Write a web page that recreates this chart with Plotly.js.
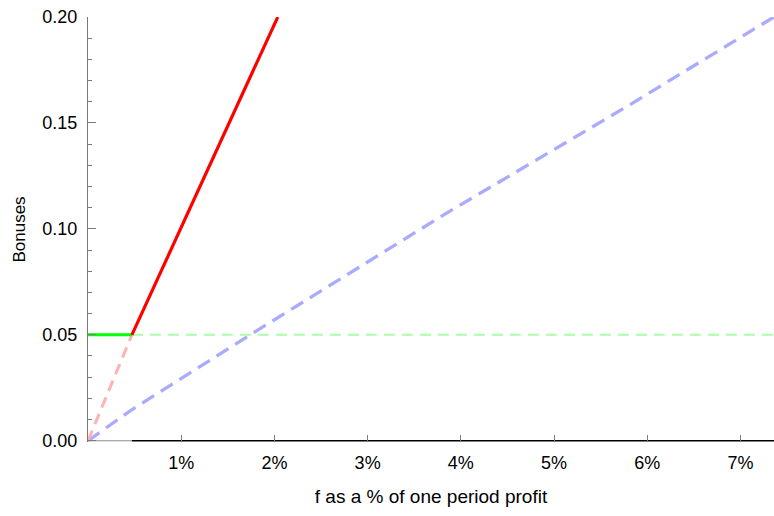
<!DOCTYPE html>
<html><head><meta charset="utf-8">
<script src="https://cdn.plot.ly/plotly-3.0.1.min.js"></script>
<style>html,body{margin:0;padding:0;background:#fff}#chart{width:774px;height:516px}</style>
</head><body><div id="chart"></div>
<script>
// data (x in % of one-period profit, y = bonus)
const redSolidX = [0.471, 2.036];
const redSolidY = [0.05, 0.2];
const redDashX = [0, 0.471];
const redDashY = [0, 0.05];
const greenSolidX = [0, 0.471];
const greenSolidY = [0.05, 0.05];
const greenDashX = [0.471, 7.36];
const greenDashY = [0.05, 0.05];
const blueX = [0, 0.465, 1.74, 3.83, 5.81, 7.36];
const blueY = [0, 0.0145, 0.05, 0.107, 0.1585, 0.2];
const baseGrayX = [0, 0.471];
const baseBlackX = [0.471, 7.36];
const baseY = [0, 0];
const xTicks = [1, 2, 3, 4, 5, 6, 7];
const yTicks = [0, 0.05, 0.10, 0.15, 0.20];

const traces = [
  {x: baseGrayX, y: baseY, mode: 'lines', line: {color: '#8c8c8c', width: 1.2}},
  {x: baseBlackX, y: baseY, mode: 'lines', line: {color: '#000', width: 1.4}},
  {x: greenDashX, y: greenDashY, mode: 'lines', line: {color: 'rgb(170,255,170)', width: 2, dash: '11px,7px'}},
  {x: blueX, y: blueY, mode: 'lines', line: {color: 'rgb(170,170,255)', width: 3.3, dash: '14px,8px'}},
  {x: redDashX, y: redDashY, mode: 'lines', line: {color: 'rgb(255,178,178)', width: 3, dash: '11px,7px'}},
  {x: greenSolidX, y: greenSolidY, mode: 'lines', line: {color: 'rgb(0,255,0)', width: 3}},
  {x: redSolidX, y: redSolidY, mode: 'lines', line: {color: 'rgb(255,0,0)', width: 3.2}}
];

const font = {family: 'Liberation Sans, Arial, sans-serif', size: 18, color: '#000'};
const layout = {
  width: 774, height: 516,
  margin: {l: 88, r: 0, t: 17, b: 74},
  showlegend: false,
  paper_bgcolor: '#fff', plot_bgcolor: '#fff',
  font: font,
  xaxis: {
    range: [0, 7.36], showgrid: false, zeroline: false, showline: false,
    tickvals: xTicks, ticktext: xTicks.map(v => v + '%'),
    ticks: 'inside', ticklen: 7, tickcolor: '#7a7a7a', tickwidth: 1,
    tickfont: {size: 18}, ticklabelstandoff: 8,
    title: {text: 'f as a % of one period profit', font: {size: 19}, standoff: 17}
  },
  yaxis: {
    range: [-0.0006, 0.2], showgrid: false, zeroline: false,
    showline: true, linecolor: '#7a7a7a', linewidth: 1,
    tickvals: yTicks, tickformat: '.2f',
    ticks: 'inside', ticklen: 8, tickcolor: '#7a7a7a', tickwidth: 1,
    tickfont: {size: 18}, ticklabelstandoff: 6,
    minor: {dtick: 0.01, tick0: 0, ticks: 'inside', ticklen: 4, tickcolor: '#7a7a7a', showgrid: false},
    title: {text: 'Bonuses', font: {size: 17}, standoff: 12}
  }
};
Plotly.newPlot('chart', traces, layout, {displayModeBar: false, staticPlot: true});
</script></body></html>
